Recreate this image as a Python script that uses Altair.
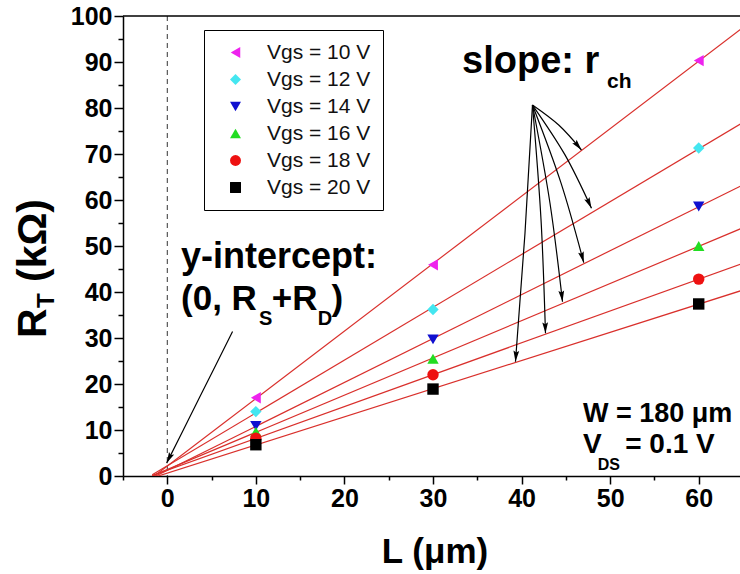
import math

import altair as alt
import pandas as pd

# ---- measured total resistance R_T (kOhm) versus channel length L (um) ----
channel_lengths = [10, 30, 60]
vgs_labels = ["Vgs = 10 V", "Vgs = 12 V", "Vgs = 14 V",
              "Vgs = 16 V", "Vgs = 18 V", "Vgs = 20 V"]
rt_vgs10 = [17.0, 45.9, 90.3]
rt_vgs12 = [14.0, 36.2, 71.3]
rt_vgs14 = [10.9, 29.7, 58.6]
rt_vgs16 = [9.6, 25.5, 50.0]
rt_vgs18 = [8.2, 22.0, 42.8]
rt_vgs20 = [6.8, 18.9, 37.4]
rt_series = [rt_vgs10, rt_vgs12, rt_vgs14, rt_vgs16, rt_vgs18, rt_vgs20]

marker_shapes = ["triangle-left", "diamond", "triangle-down",
                 "triangle-up", "circle", "square"]
marker_colors = ["#ee22ee", "#44e6f0", "#1010d0", "#22dd22", "#ee1111", "#000000"]

x_tick_values = list(range(-5, 61, 5))
y_tick_values = list(range(0, 101, 5))

rows = []
for name, values in zip(vgs_labels, rt_series):
    for length, rt in zip(channel_lengths, values):
        rows.append({"L": length, "R": rt, "Vgs": name})
points_df = pd.DataFrame(rows)

# ---- plot geometry ----
PLOT_W, PLOT_H = 617, 460
X_DOMAIN = [-5, 64.66]
Y_DOMAIN = [0, 100]
PX_X = PLOT_W / (X_DOMAIN[1] - X_DOMAIN[0])
PX_Y = PLOT_H / (Y_DOMAIN[1] - Y_DOMAIN[0])

FONT = "Liberation Sans"

x_axis = alt.Axis(
    values=x_tick_values,
    labelExpr="datum.value % 10 === 0 ? datum.label : ''",
    tickSize={"condition": {"test": "datum.value % 10 !== 0", "value": 4}, "value": 8},
    labelPadding=2,
    title=None,
)
y_axis = alt.Axis(
    values=y_tick_values,
    labelExpr="datum.value % 10 === 0 ? datum.label : ''",
    tickSize={"condition": {"test": "datum.value % 10 !== 0", "value": 5}, "value": 9},
    labelPadding=2,
    title=None,
)
X = alt.X("L:Q", scale=alt.Scale(domain=X_DOMAIN, nice=False, zero=False), axis=x_axis)
Y = alt.Y("R:Q", scale=alt.Scale(domain=Y_DOMAIN, nice=False, zero=False), axis=y_axis)

# dashed guide at L = 0 and frame line on top
zero_line = alt.Chart(pd.DataFrame({"L": [0]})).mark_rule(
    color="#333333", strokeWidth=1, strokeDash=[5, 4]
).encode(x=X)
top_frame = alt.Chart(pd.DataFrame({"R": [100]})).mark_rule(
    color="black", strokeWidth=1.5
).encode(y=Y)

# linear fits for each gate voltage
fit_lines = alt.Chart(points_df).transform_regression(
    "L", "R", groupby=["Vgs"], extent=[-1.7, 66]
).mark_line(color="#d9302c", strokeWidth=1.2, clip=True).encode(
    x=X, y=Y, detail="Vgs:N"
)

legend = alt.Legend(
    title=None, orient="none", legendX=81, legendY=14,
)
markers = alt.Chart(points_df).mark_point(filled=True, size=130, opacity=1).encode(
    x=X,
    y=Y,
    shape=alt.Shape("Vgs:N", scale=alt.Scale(domain=vgs_labels, range=marker_shapes),
                    legend=legend),
    color=alt.Color("Vgs:N", scale=alt.Scale(domain=vgs_labels, range=marker_colors),
                    legend=legend),
)

# ---- annotation arrows ----
intercept_arrow = {"start": (7.37, 31.4), "tip": (-0.07, 2.8), "bend": 0}
slope_origin = (41.23, 80.65)
slope_tips = [(46.76, 70.87), (47.89, 58.20), (47.02, 46.37),
              (44.62, 37.89), (42.70, 31.02), (39.31, 24.85)]
slope_bends = [3, 3.5, 3, 2.5, 2, 1]

arrow_defs = [intercept_arrow] + [
    {"start": slope_origin, "tip": tip, "bend": bend}
    for tip, bend in zip(slope_tips, slope_bends)
]

arrow_rows, head_rows = [], []
for i, a in enumerate(arrow_defs):
    (l0, r0), (l2, r2) = a["start"], a["tip"]
    # screen-space vectors (y grows downward)
    x0, y0 = l0 * PX_X, -r0 * PX_Y
    x2, y2 = l2 * PX_X, -r2 * PX_Y
    vx, vy = x2 - x0, y2 - y0
    n = math.hypot(vx, vy)
    nx, ny = vy / n, -vx / n
    xm = (x0 + x2) / 2 + nx * a["bend"]
    ym = (y0 + y2) / 2 + ny * a["bend"]
    pts = [(x0, y0), (xm, ym), (x2, y2)]
    for k, (px, py) in enumerate(pts):
        arrow_rows.append({"arrow": i, "k": k, "L": px / PX_X, "R": -py / PX_Y})
    # end tangent of the natural spline through the three points
    tx = (x2 - xm) + 0.25 * (x0 - 2 * xm + x2)
    ty = (y2 - ym) + 0.25 * (y0 - 2 * ym + y2)
    ang = math.degrees(math.atan2(tx, -ty)) % 360
    head_rows.append({"L": l2, "R": r2, "ang": ang})

arrow_lines = alt.Chart(pd.DataFrame(arrow_rows)).mark_line(
    interpolate="natural", color="black", strokeWidth=1.2
).encode(x=X, y=Y, detail="arrow:N", order="k:Q")

ARROW_HEAD = "M0,0L0.55,2.1L0,1.75L-0.55,2.1Z"
arrow_heads = alt.Chart(pd.DataFrame(head_rows)).mark_point(
    shape=ARROW_HEAD, filled=True, color="black", size=110, opacity=1
).encode(x=X, y=Y, angle=alt.Angle("ang:Q", scale=None))

# ---- annotation text (positions in data units) ----
notes = pd.DataFrame([
    {"L": 1.55, "R": 45.2, "text": "y-intercept:", "fs": 36},
    {"L": 1.55, "R": 36.1, "text": "(0, R", "fs": 35},
    {"L": 10.35, "R": 32.8, "text": "S", "fs": 20},
    {"L": 11.8, "R": 36.1, "text": "+R", "fs": 35},
    {"L": 17.0, "R": 32.8, "text": "D", "fs": 20},
    {"L": 18.55, "R": 36.1, "text": ")", "fs": 35},
    {"L": 33.28, "R": 87.6, "text": "slope: r", "fs": 38},
    {"L": 49.65, "R": 84.35, "text": "ch", "fs": 21},
    {"L": 46.94, "R": 11.74, "text": "W = 180 \u03bcm", "fs": 27},
    {"L": 46.94, "R": 5.0, "text": "V", "fs": 28},
    {"L": 48.6, "R": 1.4, "text": "DS", "fs": 16},
    {"L": 51.7, "R": 5.0, "text": "= 0.1 V", "fs": 28},
])
note_text = alt.Chart(notes).mark_text(
    align="left", baseline="alphabetic", font=FONT, fontWeight="bold", color="black"
).encode(x=X, y=Y, text="text:N", size=alt.Size("fs:Q", scale=None))


def title_piece(text, x, y, size, angle=0, align="left"):
    return alt.Chart(pd.DataFrame({"t": [0]})).mark_text(
        text=text, font=FONT, fontWeight="bold", fontSize=size, color="black",
        angle=angle, align=align, baseline="alphabetic",
    ).encode(x=alt.value(x), y=alt.value(y))


# axis titles
x_title = title_piece("L (\u03bcm)", 312, 547, 35, align="center")
y_title_r = title_piece("R", -77, 322, 41, angle=270)
y_title_t = title_piece("T", -69, 292, 24, angle=270)
y_title_rest = title_piece("(k\u03a9)", -77, 266, 41, angle=270)

chart = alt.layer(
    zero_line, top_frame, fit_lines, arrow_lines, arrow_heads, markers,
    note_text, x_title, y_title_r, y_title_t, y_title_rest,
).properties(
    width=PLOT_W,
    height=PLOT_H,
    autosize=alt.AutoSizeParams(type="none"),
    padding={"left": 123, "top": 16, "right": 0, "bottom": 98},
    background="white",
).configure_view(
    stroke=None
).configure_axis(
    grid=False,
    domainColor="black",
    domainWidth=1.5,
    tickColor="black",
    tickWidth=1.5,
    labelFont=FONT,
    labelFontWeight="bold",
    labelFontSize=25,
    labelColor="black",
).configure_legend(
    padding=12,
    strokeColor="black",
    strokeWidth=1,
    fillColor="white",
    labelFont=FONT,
    labelFontSize=21,
    labelColor="#111111",
    symbolSize=120,
    symbolOffset=9,
    labelOffset=21,
    rowPadding=5,
    symbolStrokeWidth=0,
)

chart.save("out.html", embed_options={"renderer": "svg", "actions": False})
